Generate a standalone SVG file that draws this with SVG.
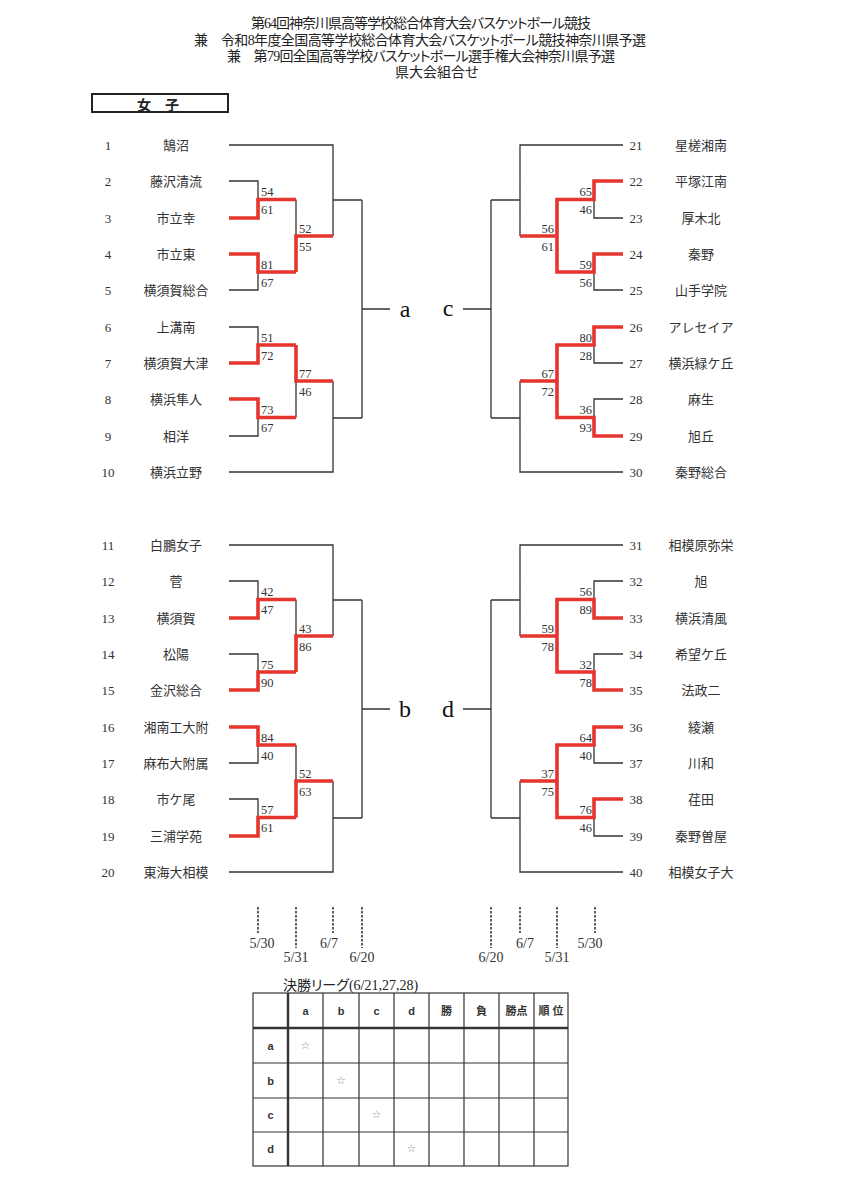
<svg xmlns="http://www.w3.org/2000/svg" width="844" height="1200" viewBox="0 0 844 1200">
<style>
.bg{fill:#fff}
.ttl{font-family:"Liberation Serif","Noto Sans CJK JP",serif;font-size:14px;fill:#222;font-feature-settings:"palt"}
.num{font-family:"Liberation Serif",serif;font-size:13px;fill:#333;text-anchor:middle;dominant-baseline:central}
.nm{font-family:"Liberation Serif","Noto Sans CJK JP",serif;font-size:13px;fill:#333;text-anchor:middle;dominant-baseline:central}
.sc{font-family:"Liberation Serif",serif;font-size:12.5px;fill:#333}
.scl{text-anchor:start}
.scr{text-anchor:end}
.grp{font-family:"Liberation Serif",serif;font-size:24px;fill:#111;text-anchor:middle;dominant-baseline:central}
.blk{fill:none;stroke:#333;stroke-width:1.3}
.red{fill:none;stroke:#e5352d;stroke-width:3.6;stroke-linejoin:miter;stroke-linecap:butt}
.dash{stroke:#333;stroke-width:1.6;stroke-dasharray:2.5 1.5}
.dt{font-family:"Liberation Serif",serif;font-size:14px;fill:#333;text-anchor:middle;dominant-baseline:central}
.tb{fill:none;stroke:#333;stroke-width:1.2}
.tbk{fill:none;stroke:#333;stroke-width:2.4}
.th{font-family:"Liberation Sans","Noto Sans CJK JP",sans-serif;font-size:11px;font-weight:bold;fill:#333;text-anchor:middle;dominant-baseline:central}
.star{font-family:"DejaVu Sans",sans-serif;font-size:11px;fill:#999;text-anchor:middle;dominant-baseline:central}
</style>
<rect class="bg" x="0" y="0" width="844" height="1200"/>

<g id="title">
<text class="ttl" x="251" y="28" textLength="340" lengthAdjust="spacing">第64回神奈川県高等学校総合体育大会バスケットボール競技</text>
<text class="ttl" x="194" y="45" textLength="452" lengthAdjust="spacing">兼　令和8年度全国高等学校総合体育大会バスケットボール競技神奈川県予選</text>
<text class="ttl" x="227" y="61" textLength="388" lengthAdjust="spacing">兼　第79回全国高等学校バスケットボール選手権大会神奈川県予選</text>
<text class="ttl" x="395" y="77">県大会組合せ</text>
</g>

<g id="category">
<rect x="92" y="94" width="136" height="18" fill="none" stroke="#222" stroke-width="2"/>
<text x="158" y="103.5" style="font-family:'Noto Sans CJK JP',sans-serif;font-size:14px;font-weight:bold;fill:#222;text-anchor:middle;dominant-baseline:central">女　子</text>
</g>

<g id="teams-a">
<g id="t1"><text class="num" x="108" y="145">1</text><text class="nm" x="176" y="145">鵠沼</text></g>
<g id="t2"><text class="num" x="108" y="181">2</text><text class="nm" x="176" y="181">藤沢清流</text></g>
<g id="t3"><text class="num" x="108" y="218">3</text><text class="nm" x="176" y="218">市立幸</text></g>
<g id="t4"><text class="num" x="108" y="254">4</text><text class="nm" x="176" y="254">市立東</text></g>
<g id="t5"><text class="num" x="108" y="290">5</text><text class="nm" x="176" y="290">横須賀総合</text></g>
<g id="t6"><text class="num" x="108" y="327">6</text><text class="nm" x="176" y="327">上溝南</text></g>
<g id="t7"><text class="num" x="108" y="363">7</text><text class="nm" x="176" y="363">横須賀大津</text></g>
<g id="t8"><text class="num" x="108" y="399">8</text><text class="nm" x="176" y="399">横浜隼人</text></g>
<g id="t9"><text class="num" x="108" y="436">9</text><text class="nm" x="176" y="436">相洋</text></g>
<g id="t10"><text class="num" x="108" y="472">10</text><text class="nm" x="176" y="472">横浜立野</text></g>
</g>

<g id="teams-b">
<g id="t11"><text class="num" x="108" y="545">11</text><text class="nm" x="176" y="545">白鵬女子</text></g>
<g id="t12"><text class="num" x="108" y="581">12</text><text class="nm" x="176" y="581">菅</text></g>
<g id="t13"><text class="num" x="108" y="618">13</text><text class="nm" x="176" y="618">横須賀</text></g>
<g id="t14"><text class="num" x="108" y="654">14</text><text class="nm" x="176" y="654">松陽</text></g>
<g id="t15"><text class="num" x="108" y="690">15</text><text class="nm" x="176" y="690">金沢総合</text></g>
<g id="t16"><text class="num" x="108" y="727">16</text><text class="nm" x="176" y="727">湘南工大附</text></g>
<g id="t17"><text class="num" x="108" y="763">17</text><text class="nm" x="176" y="763">麻布大附属</text></g>
<g id="t18"><text class="num" x="108" y="799">18</text><text class="nm" x="176" y="799">市ケ尾</text></g>
<g id="t19"><text class="num" x="108" y="836">19</text><text class="nm" x="176" y="836">三浦学苑</text></g>
<g id="t20"><text class="num" x="108" y="872">20</text><text class="nm" x="176" y="872">東海大相模</text></g>
</g>

<g id="teams-c">
<g id="t21"><text class="num" x="636" y="145">21</text><text class="nm" x="701" y="145">星槎湘南</text></g>
<g id="t22"><text class="num" x="636" y="181">22</text><text class="nm" x="701" y="181">平塚江南</text></g>
<g id="t23"><text class="num" x="636" y="218">23</text><text class="nm" x="701" y="218">厚木北</text></g>
<g id="t24"><text class="num" x="636" y="254">24</text><text class="nm" x="701" y="254">秦野</text></g>
<g id="t25"><text class="num" x="636" y="290">25</text><text class="nm" x="701" y="290">山手学院</text></g>
<g id="t26"><text class="num" x="636" y="327">26</text><text class="nm" x="701" y="327">アレセイア</text></g>
<g id="t27"><text class="num" x="636" y="363">27</text><text class="nm" x="701" y="363">横浜緑ケ丘</text></g>
<g id="t28"><text class="num" x="636" y="399">28</text><text class="nm" x="701" y="399">麻生</text></g>
<g id="t29"><text class="num" x="636" y="436">29</text><text class="nm" x="701" y="436">旭丘</text></g>
<g id="t30"><text class="num" x="636" y="472">30</text><text class="nm" x="701" y="472">秦野総合</text></g>
</g>

<g id="teams-d">
<g id="t31"><text class="num" x="636" y="545">31</text><text class="nm" x="701" y="545">相模原弥栄</text></g>
<g id="t32"><text class="num" x="636" y="581">32</text><text class="nm" x="701" y="581">旭</text></g>
<g id="t33"><text class="num" x="636" y="618">33</text><text class="nm" x="701" y="618">横浜清風</text></g>
<g id="t34"><text class="num" x="636" y="654">34</text><text class="nm" x="701" y="654">希望ケ丘</text></g>
<g id="t35"><text class="num" x="636" y="690">35</text><text class="nm" x="701" y="690">法政二</text></g>
<g id="t36"><text class="num" x="636" y="727">36</text><text class="nm" x="701" y="727">綾瀬</text></g>
<g id="t37"><text class="num" x="636" y="763">37</text><text class="nm" x="701" y="763">川和</text></g>
<g id="t38"><text class="num" x="636" y="799">38</text><text class="nm" x="701" y="799">荏田</text></g>
<g id="t39"><text class="num" x="636" y="836">39</text><text class="nm" x="701" y="836">秦野曽屋</text></g>
<g id="t40"><text class="num" x="636" y="872">40</text><text class="nm" x="701" y="872">相模女子大</text></g>
</g>

<g id="group-labels">
<g id="ga"><text class="grp" x="405" y="309">a</text></g>
<g id="gb"><text class="grp" x="405" y="709">b</text></g>
<g id="gc"><text class="grp" x="448" y="308">c</text></g>
<g id="gd"><text class="grp" x="448" y="709">d</text></g>
</g>

<g id="connectors">
<path class="blk" d="M229 145H333V236 M229 181H258V218H229 M258 199.5H296 M229 254H258V290H229 M258 272H296 M296 199.5V272 M296 236H333 M333 200H362 M229 327H258V363H229 M258 345H296 M229 399H258V436H229 M258 417.5H296 M296 345V417.5 M296 381H333 M333 381V472H229 M333 418H362 M362 200V418 M362 309H390"/>
<path class="blk" d="M623 145H520V236 M623 181H594V218H623 M594 199.5H557 M623 254H594V290H623 M594 272H557 M557 199.5V272 M557 236H520 M520 200H491 M623 327H594V363H623 M594 345H557 M623 399H594V436H623 M594 417.5H557 M557 345V417.5 M557 381H520 M520 381V472H623 M520 418H491 M491 200V418 M491 309H463"/>
<path class="blk" d="M229 545H333V636 M229 581H258V618H229 M258 599.5H296 M229 654H258V690H229 M258 672H296 M296 599.5V672 M296 636H333 M333 600H362 M229 727H258V763H229 M258 745H296 M229 799H258V836H229 M258 817.5H296 M296 745V817.5 M296 781H333 M333 781V872H229 M333 818H362 M362 600V818 M362 709H390"/>
<path class="blk" d="M623 545H520V636 M623 581H594V618H623 M594 599.5H557 M623 654H594V690H623 M594 672H557 M557 599.5V672 M557 636H520 M520 600H491 M623 727H594V763H623 M594 745H557 M623 799H594V836H623 M594 817.5H557 M557 745V817.5 M557 781H520 M520 781V872H623 M520 818H491 M491 600V818 M491 709H463"/>

<path class="red" d="M229 218H258V199.5H296 M229 254H258V272H296 M296 272V236H333 M229 363H258V345H296 M229 399H258V417.5H296 M296 345V381H333"/>
<path class="red" d="M623 181H594V199.5H557V272H594V254H623 M557 236H520 M623 327H594V345H557V417.5H594V436H623 M557 381H520"/>
<path class="red" d="M229 618H258V599.5H296 M229 690H258V672H296 M296 672V636H333 M229 727H258V745H296 M229 836H258V817.5H296 M296 817.5V781H333"/>
<path class="red" d="M623 618H594V599.5H557V672H594V690H623 M557 636H520 M623 727H594V745H557V817.5H594V799H623 M557 781H520"/>

<g id="scores">
<text class="sc scl" x="261" y="196">54</text><text class="sc scl" x="261" y="214">61</text>
<text class="sc scl" x="261" y="268.5">81</text><text class="sc scl" x="261" y="286.5">67</text>
<text class="sc scl" x="299" y="232.5">52</text><text class="sc scl" x="299" y="250.5">55</text>
<text class="sc scl" x="261" y="341.5">51</text><text class="sc scl" x="261" y="359.5">72</text>
<text class="sc scl" x="261" y="414">73</text><text class="sc scl" x="261" y="432">67</text>
<text class="sc scl" x="299" y="377.5">77</text><text class="sc scl" x="299" y="395.5">46</text>

<text class="sc scr" x="592" y="196">65</text><text class="sc scr" x="592" y="214">46</text>
<text class="sc scr" x="592" y="268.5">59</text><text class="sc scr" x="592" y="286.5">56</text>
<text class="sc scr" x="554" y="232.5">56</text><text class="sc scr" x="554" y="250.5">61</text>
<text class="sc scr" x="592" y="341.5">80</text><text class="sc scr" x="592" y="359.5">28</text>
<text class="sc scr" x="592" y="414">36</text><text class="sc scr" x="592" y="432">93</text>
<text class="sc scr" x="554" y="377.5">67</text><text class="sc scr" x="554" y="395.5">72</text>

<text class="sc scl" x="261" y="596">42</text><text class="sc scl" x="261" y="614">47</text>
<text class="sc scl" x="261" y="668.5">75</text><text class="sc scl" x="261" y="686.5">90</text>
<text class="sc scl" x="299" y="632.5">43</text><text class="sc scl" x="299" y="650.5">86</text>
<text class="sc scl" x="261" y="741.5">84</text><text class="sc scl" x="261" y="759.5">40</text>
<text class="sc scl" x="261" y="814">57</text><text class="sc scl" x="261" y="832">61</text>
<text class="sc scl" x="299" y="777.5">52</text><text class="sc scl" x="299" y="795.5">63</text>

<text class="sc scr" x="592" y="596">56</text><text class="sc scr" x="592" y="614">89</text>
<text class="sc scr" x="592" y="668.5">32</text><text class="sc scr" x="592" y="686.5">78</text>
<text class="sc scr" x="554" y="632.5">59</text><text class="sc scr" x="554" y="650.5">78</text>
<text class="sc scr" x="592" y="741.5">64</text><text class="sc scr" x="592" y="759.5">40</text>
<text class="sc scr" x="592" y="814">76</text><text class="sc scr" x="592" y="832">46</text>
<text class="sc scr" x="554" y="777.5">37</text><text class="sc scr" x="554" y="795.5">75</text>
</g>
</g>

<g id="dates">
<line class="dash" x1="258" y1="907" x2="258" y2="933"/>
<line class="dash" x1="296" y1="907" x2="296" y2="948"/>
<line class="dash" x1="333" y1="907" x2="333" y2="933"/>
<line class="dash" x1="362" y1="907" x2="362" y2="948"/>
<line class="dash" x1="491" y1="907" x2="491" y2="948"/>
<line class="dash" x1="520" y1="907" x2="520" y2="933"/>
<line class="dash" x1="557" y1="907" x2="557" y2="948"/>
<line class="dash" x1="595" y1="907" x2="595" y2="933"/>
<text class="dt" x="262" y="943">5/30</text>
<text class="dt" x="296" y="957">5/31</text>
<text class="dt" x="329" y="943">6/7</text>
<text class="dt" x="362" y="957">6/20</text>
<text class="dt" x="491" y="957">6/20</text>
<text class="dt" x="525" y="943">6/7</text>
<text class="dt" x="557" y="957">5/31</text>
<text class="dt" x="590" y="943">5/30</text>
</g>

<g id="league">
<text class="ttl" x="283" y="990">決勝リーグ(6/21,27,28)</text>
<rect class="tb" x="253" y="993" width="315" height="173"/>
<path class="tb" d="M323 993V1166 M359 993V1166 M394 993V1166 M429 993V1166 M464 993V1166 M499 993V1166 M534 993V1166 M253 1063H568 M253 1098H568 M253 1132H568"/>
<path class="tbk" d="M288 993V1166 M253 1028H568"/>
<text class="th" x="305.5" y="1010.5">a</text>
<text class="th" x="341" y="1010.5">b</text>
<text class="th" x="376.5" y="1010.5">c</text>
<text class="th" x="411.5" y="1010.5">d</text>
<text class="th" x="446.5" y="1010.5">勝</text>
<text class="th" x="481.5" y="1010.5">負</text>
<text class="th" x="516.5" y="1010.5">勝点</text>
<text class="th" x="551" y="1010.5">順 位</text>
<text class="th" x="270.5" y="1045.5">a</text>
<text class="th" x="270.5" y="1080.5">b</text>
<text class="th" x="270.5" y="1115">c</text>
<text class="th" x="270.5" y="1149">d</text>
<text class="star" x="305.5" y="1045">☆</text>
<text class="star" x="341" y="1080">☆</text>
<text class="star" x="376.5" y="1114">☆</text>
<text class="star" x="411.5" y="1148">☆</text>
</g>
</svg>
